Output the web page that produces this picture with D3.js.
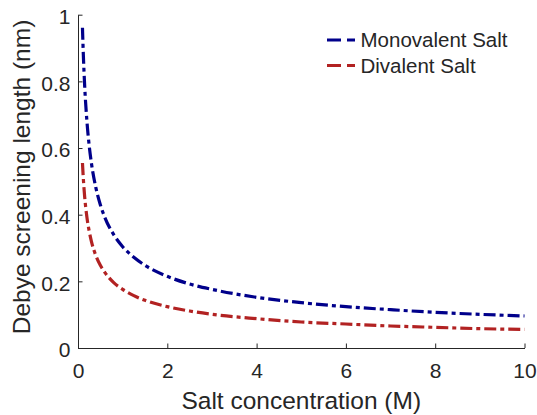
<!DOCTYPE html>
<html>
<head>
<meta charset="utf-8">
<script src="https://cdn.jsdelivr.net/npm/d3@7"></script>
<style>
  html, body { margin: 0; padding: 0; background: #fff; }
  text { font-family: "Liberation Sans", Arial, Helvetica, sans-serif; fill: #262626; }
</style>
</head>
<body>
<svg id="chart" width="537" height="415"></svg>
<script>
// Data
const concentration = [0.1, 0.12, 0.15, 0.2, 0.25, 0.3, 0.4, 0.5, 0.6, 0.8, 1, 1.25, 1.5, 2, 2.5, 3, 4, 5, 6, 7, 8, 9, 10];
const monovalent   = [0.961, 0.878, 0.785, 0.680, 0.608, 0.555, 0.481, 0.430, 0.392, 0.340, 0.304, 0.272, 0.248, 0.215, 0.192, 0.176, 0.152, 0.136, 0.124, 0.115, 0.107, 0.101, 0.096];
const divalent     = [0.555, 0.507, 0.453, 0.392, 0.351, 0.320, 0.277, 0.248, 0.227, 0.196, 0.176, 0.157, 0.143, 0.124, 0.111, 0.101, 0.088, 0.078, 0.072, 0.066, 0.062, 0.058, 0.056];
const seriesNames  = ["Monovalent Salt", "Divalent Salt"];
const seriesColors = ["#00008B", "#B22222"];
const xTicks = [0, 2, 4, 6, 8, 10];
const yTicks = [0, 0.2, 0.4, 0.6, 0.8, 1];
const xLabel = "Salt concentration (M)";
const yLabel = "Debye screening length (nm)";

const svg = d3.select("#chart");
const mLeft = 78, mRight = 524.5, mTop = 14.7, mBottom = 348;

const x = d3.scaleLinear().domain([0, 10]).range([mLeft, mRight]);
const y = d3.scaleLinear().domain([0, 1]).range([mBottom, mTop]);

const axisColor = "#262626";

// X axis
const gx = svg.append("g").attr("transform", `translate(0,${mBottom})`)
  .call(d3.axisBottom(x).tickValues(xTicks).tickFormat(d3.format("d")).tickSizeInner(-4.5).tickSizeOuter(0).tickPadding(15.3));
gx.select(".domain").attr("stroke", axisColor).attr("stroke-width", 1);
gx.selectAll(".tick line").attr("stroke", axisColor);
gx.selectAll(".tick text").attr("font-size", 21).attr("fill", axisColor)
  .attr("font-family", '"Liberation Sans", Arial, sans-serif');

// Y axis
const gy = svg.append("g").attr("transform", `translate(${mLeft},0)`)
  .call(d3.axisLeft(y).tickValues(yTicks).tickFormat(d => d === 0 || d === 1 ? d3.format("d")(d) : d3.format(".1f")(d)).tickSizeInner(-4.5).tickSizeOuter(0));
gy.select(".domain").attr("stroke", axisColor).attr("stroke-width", 1);
gy.selectAll(".tick line").attr("stroke", axisColor);
gy.selectAll(".tick text").attr("font-size", 21).attr("fill", axisColor)
  .attr("font-family", '"Liberation Sans", Arial, sans-serif')
  .attr("x", -7.5).attr("dy", "0.42em");

// Axis labels
svg.append("text").attr("transform", `translate(${(mLeft + mRight) / 2},409.3)`)
  .attr("text-anchor", "middle").attr("font-size", 24.5).text(xLabel);
svg.append("text").attr("transform", `translate(30,177) rotate(-90)`)
  .attr("text-anchor", "middle").attr("font-size", 24.5).text(yLabel);

// Lines
const line = d3.line().x(d => x(d[0])).y(d => y(d[1])).curve(d3.curveMonotoneX);
[monovalent, divalent].forEach((vals, i) => {
  const pts = concentration.map((c, j) => [c, vals[j]]);
  svg.append("path").datum(pts)
    .attr("d", line)
    .attr("fill", "none")
    .attr("stroke", seriesColors[i])
    .attr("stroke-width", 3.2)
    .attr("stroke-dasharray", "12,4,4,4");
});

// Legend
const legY = [40, 65.5];
seriesNames.forEach((name, i) => {
  svg.append("line").attr("x1", 327).attr("x2", 355).attr("y1", legY[i]).attr("y2", legY[i])
    .attr("stroke", seriesColors[i]).attr("stroke-width", 3.2).attr("stroke-dasharray", "14,6,8,6");
  svg.append("text").attr("transform", `translate(360.5,${legY[i]})`)
    .attr("dy", "0.36em").attr("font-size", 20.5).attr("fill", "#000").text(name);
});
</script>
</body>
</html>
